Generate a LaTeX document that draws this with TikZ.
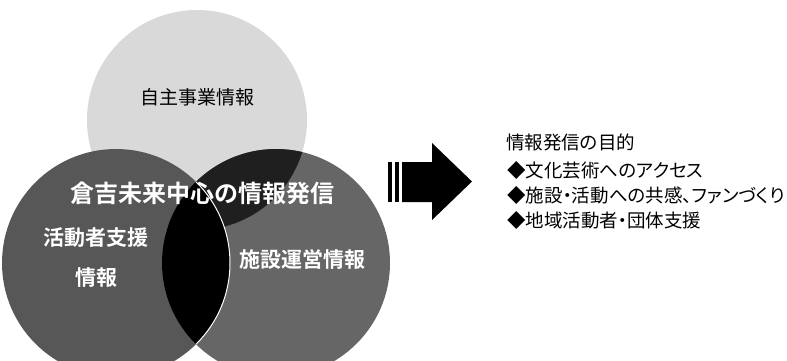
\documentclass[tikz,border=0pt]{standalone}
\usepackage{fontspec}
\setmainfont{Noto Sans CJK JP}[BoldFont={Noto Sans CJK JP Bold}]
\newfontfamily\jpprop{Noto Sans CJK JP}[RawFeature=+palt]
\usepackage{tikz}

\begin{document}
\begin{tikzpicture}[x=1pt, y=-1pt,
    inlabel/.style={text=white, font=\bfseries\fontsize{21}{40}\selectfont, align=center},
    goal/.style={anchor=west, inner sep=0pt, font=\jpprop\fontsize{18.5}{22}\selectfont}]
      \useasboundingbox (0, 0) rectangle (787, 360);
      \coordinate (t) at (197, 120);
      \coordinate (l) at (116, 263);
      \coordinate (r) at (276, 263);

      % three circles
      \fill[black!15] (t) circle (110);
      \fill[black!66] (l) circle (114);
      \fill[black!60] (r) circle (114);
      \begin{scope}
        \clip (r) circle (114);
        \fill[black!88] (t) circle (110);
      \end{scope}
      \begin{scope}
        \clip (l) circle (114);
        \fill[black] (r) circle (114);
      \end{scope}
      \begin{scope}
        \clip (r) circle (114);
        \draw[white, line width=1pt] (l) circle (114);
      \end{scope}

      \node (own) at (197, 97) {\fontsize{19}{22}\selectfont 自主事業情報};
      \node [inlabel] (actor) at (96, 258) {活動者支援\\情報};
      \node [inlabel] (hall) at (302, 260) {施設運営情報};
      \node [text=white, font=\bfseries\fontsize{24}{28}\selectfont] (title) at (202, 193) {倉吉未来中心の情報発信};

      % arrow
      \fill (388, 162) rectangle (392, 202);
      \fill (395, 162) rectangle (398.5, 202);
      \fill (402, 162) -- (432, 162) -- (432, 143) -- (472, 181.5)
            -- (432, 220) -- (432, 202) -- (402, 202) -- cycle;

      \node [goal] (aim) at (506, 142) {情報発信の目的};
      \node [goal] (g1) at (507, 170) {◆文化芸術へのアクセス};
      \node [goal] (g2) at (507, 195) {◆施設・活動への共感、ファンづくり};
      \node [goal] (g3) at (507, 220) {◆地域活動者・団体支援};
\end{tikzpicture}
\end{document}
